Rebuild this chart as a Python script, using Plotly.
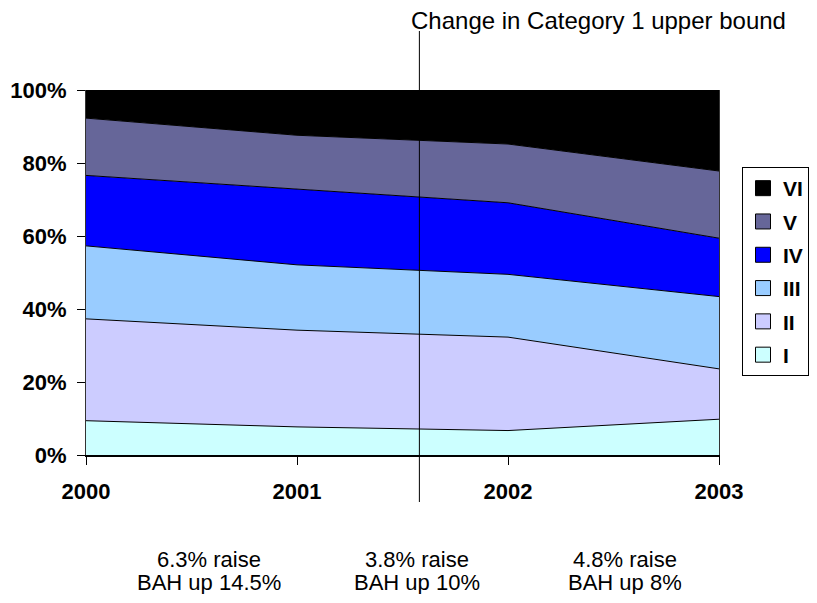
import plotly.graph_objects as go

years = [2000, 2001, 2002, 2003]
series_names = ["I", "II", "III", "IV", "V", "VI"]
cat_I = [9.4, 7.7, 6.7, 9.8]
cat_II = [27.9, 26.5, 25.6, 13.8]
cat_III = [20.0, 17.9, 17.2, 19.8]
cat_IV = [19.3, 20.8, 19.6, 16.0]
cat_V = [15.7, 14.7, 16.1, 18.4]
cat_VI = [7.7, 12.4, 14.8, 22.2]
series_values = [cat_I, cat_II, cat_III, cat_IV, cat_V, cat_VI]
colors = ["#CCFFFF", "#CCCCFF", "#99CCFF", "#0000FF", "#666699", "#000000"]
y_ticks = [0, 20, 40, 60, 80, 100]
y_tick_labels = ["0%", "20%", "40%", "60%", "80%", "100%"]
change_year = 2001.58
change_label = "Change in Category 1 upper bound"
raise_text = ["6.3% raise", "3.8% raise", "4.8% raise"]
bah_text = ["BAH up 14.5%", "BAH up 10%", "BAH up 8%"]

FONT = "Arial, Liberation Sans, sans-serif"

fig = go.Figure()
for name, vals, col in zip(series_names, series_values, colors):
    fig.add_trace(go.Scatter(
        x=years, y=vals, name=name, stackgroup="one", mode="lines",
        line=dict(color="black", width=1), fillcolor=col,
        showlegend=False, legendgroup=name, hoverinfo="skip",
    ))

# legend entries (square swatches), top to bottom VI..I
for name, col in reversed(list(zip(series_names, colors))):
    fig.add_trace(go.Scatter(
        x=[None], y=[None], name=name, mode="markers", legendgroup=name,
        marker=dict(symbol="square", size=15, color=col,
                    line=dict(color="black", width=1)),
        showlegend=True,
    ))

fig.add_shape(type="line", xref="x", yref="paper",
              x0=change_year, x1=change_year, y0=-0.1288, y1=1.1616,
              line=dict(color="black", width=1))

fig.add_annotation(text=change_label, xref="paper", yref="paper",
                   x=0.8096, y=1.2302, xanchor="center", yanchor="top",
                   borderpad=0, showarrow=False,
                   font=dict(family=FONT, size=24, color="black"))

block_x = [0.1951, 0.5229, 0.8515]
for bx, t1, t2 in zip(block_x, raise_text, bah_text):
    fig.add_annotation(text=t1, xref="paper", yref="paper",
                       x=bx, y=-0.2863, xanchor="center", yanchor="middle",
                       height=23, showarrow=False, borderpad=0,
                       font=dict(family=FONT, size=22, color="black"))
    fig.add_annotation(text=t2, xref="paper", yref="paper",
                       x=bx, y=-0.3493, xanchor="center", yanchor="middle",
                       height=23, showarrow=False, borderpad=0,
                       font=dict(family=FONT, size=22, color="black"))

fig.update_layout(
    width=801, height=587,
    margin=dict(l=78, r=90, t=82, b=140, autoexpand=False),
    paper_bgcolor="white", plot_bgcolor="white",
    font=dict(family=FONT, color="black"),
    showlegend=True,
    legend=dict(
        xref="container", yref="container",
        x=1.0, y=0.7291, xanchor="right", yanchor="top",
        bordercolor="black", borderwidth=1, bgcolor="white",
        font=dict(family=FONT, size=21, color="black", weight="bold"),
        traceorder="grouped", tracegroupgap=3, itemwidth=30,
    ),
    xaxis=dict(
        range=[2000, 2003], tickmode="array", tickvals=years,
        ticktext=[str(y) for y in years], automargin=False,
        showgrid=False, zeroline=False,
        showline=True, linecolor="black", linewidth=2,
        ticks="outside", ticklen=8, tickcolor="black", tickwidth=1,
        tickfont=dict(family=FONT, size=22, color="black", weight="bold"),
        ticklabelstandoff=8,
    ),
    yaxis=dict(
        range=[0, 100], tickmode="array", tickvals=y_ticks,
        ticktext=y_tick_labels, automargin=False,
        showgrid=False, zeroline=False,
        showline=True, linecolor="#333333", linewidth=1, mirror=True,
        ticks="outside", ticklen=8, tickcolor="black", tickwidth=1,
        tickfont=dict(family=FONT, size=22, color="black", weight="bold"),
        ticklabelstandoff=6,
    ),
)

fig.write_html("out.html")
